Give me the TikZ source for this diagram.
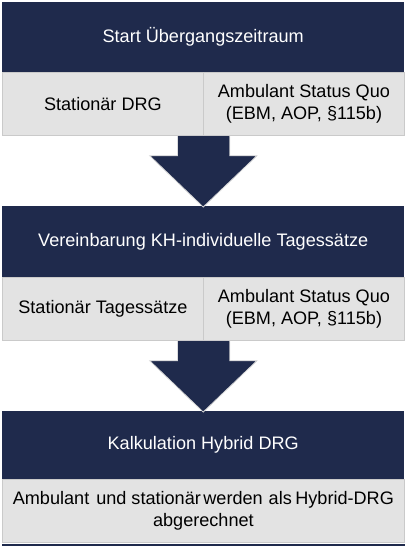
\documentclass[tikz,border=0pt]{standalone}
\usepackage{fontspec}
\setmainfont{Liberation Sans}
\usetikzlibrary{calc}
\definecolor{navy}{HTML}{1F2A4C}
\definecolor{lgray}{HTML}{E3E3E3}
\definecolor{edgegray}{HTML}{CACACA}
\definecolor{arrowedge}{HTML}{D8D8D8}
\begin{document}
\begin{tikzpicture}[x=1pt,y=-1pt,
  txt/.style={font=\fontsize{18.1}{21.5}\selectfont},
  hdr/.style={txt, fill=navy, draw=none, text=white, minimum width=402pt, inner sep=0pt, anchor=north west},
  cell/.style={txt, fill=lgray, draw=edgegray, line width=0.8pt, minimum height=63pt, inner sep=0pt, anchor=north west, align=center, text=black},
  bigarrow/.style={fill=navy, draw=arrowedge, line width=0.8pt, line join=miter}]
\useasboundingbox (0,0) rectangle (410,546);
% Stage 1
\node[hdr, minimum height=70pt] (h1) at (2,2) {Start Übergangszeitraum};
\node[cell, minimum width=201pt] (s1) at (2,72) {Stationär DRG};
\node[cell, minimum width=201pt] (a1) at (203,72) {Ambulant Status Quo\\(EBM, AOP, §115b)};
% Stage 2
\node[hdr, minimum height=71pt] (h2) at (2,206) {Vereinbarung KH-individuelle Tagessätze};
\node[cell, minimum width=201pt] (s2) at (2,277) {Stationär Tagessätze};
\node[cell, minimum width=201pt] (a2) at (203,277) {Ambulant Status Quo\\(EBM, AOP, §115b)};
% Stage 3
\node[hdr, minimum height=68pt] (h3) at (2,411) {Kalkulation Hybrid DRG};
\node[cell, minimum width=402pt] (c3) at (2,479) {Ambulant\hspace{7pt}und\hspace{5pt}stationär\hspace{2.5pt}werden\hspace{6pt}als\hspace{3.5pt}Hybrid-DRG\\abgerechnet};
\draw[navy, line width=1.6pt] ($(c3.south west)+(0,2)$) -- ($(c3.south east)+(0,2)$);
% Arrows
\foreach \top/\nxt in {s1/h2, s2/h3}{
  \coordinate (t) at (\top.south east);
  \coordinate (n) at (\nxt.north);
  \path[bigarrow] ($(t)+(-26,0)$) -- ($(t)+(26,0)$) -- ($(t)+(26,20)$) -- ($(t)+(53,20)$)
     -- ($(n)+(0,1)$) -- ($(t)+(-54,20)$) -- ($(t)+(-26,20)$) -- cycle;
  \fill[navy] ($(t)+(-25.6,0)$) rectangle ($(t)+(25.6,20.6)$);
}
\end{tikzpicture}
\end{document}
